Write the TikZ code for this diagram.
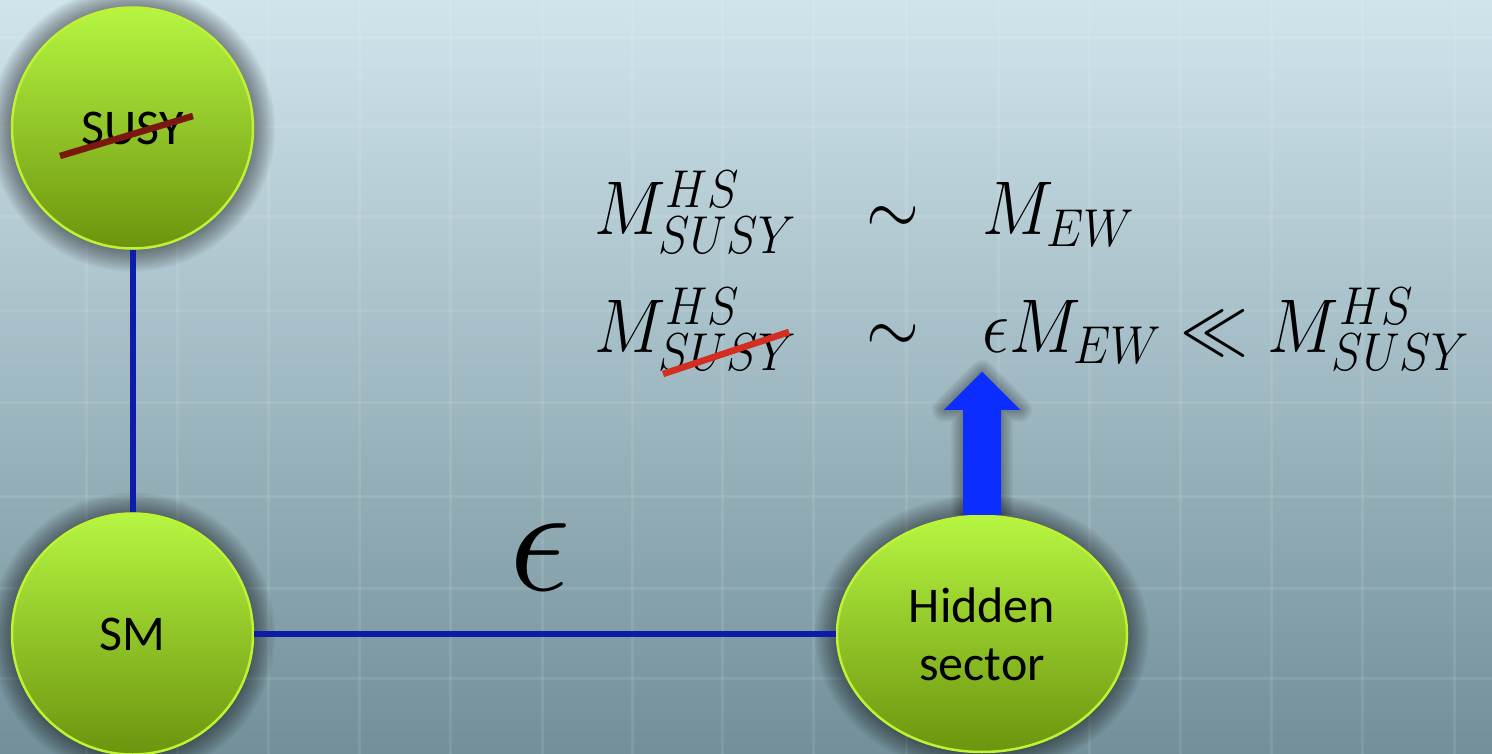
\RequirePackage{fix-cm}
\documentclass[tikz,border=0pt]{standalone}
\usepackage{graphicx}
\usepackage{fontspec}
\setmainfont{Carlito}
\usetikzlibrary{calc,shapes.geometric}
\definecolor{bgtop}{RGB}{208,228,236}
\definecolor{bgmid}{RGB}{174,202,212}
\definecolor{bgbot}{RGB}{114,144,154}
\definecolor{limetop}{RGB}{182,246,66}
\definecolor{limebot}{RGB}{108,148,14}
\definecolor{limeedge}{RGB}{190,242,50}
\definecolor{linkblue}{RGB}{12,28,168}
\definecolor{arrowblue}{RGB}{12,45,255}
\definecolor{strikedark}{RGB}{122,24,16}
\definecolor{strikered}{RGB}{212,46,32}
\newcommand{\stretchmath}[1]{\scalebox{1}[1.12]{$#1$}}
\tikzset{
  ball/.style={circle, minimum size=241pt, inner sep=0pt, top color=limetop, bottom color=limebot,
    draw=limeedge, line width=2.5pt, font=\fontsize{50}{58}\selectfont, text=black, align=center},
  oval/.style={ball, ellipse, minimum width=290pt, minimum height=236pt},
  link/.style={draw=linkblue, line width=6pt},
  eq/.style={inner sep=0pt, anchor=base west, font=\fontsize{68}{76}\selectfont, text=black},
  gridline/.style={draw=white, opacity=0.09, line width=3pt},
  glow/.style={fill=black, opacity=0.045},
  strike/.style={line width=6.5pt},
}
\begin{document}
\begin{tikzpicture}[x=1pt, y=-1pt]
\useasboundingbox (0,0) rectangle (1492,754);
% background
\shade[top color=bgtop, middle color=bgmid, bottom color=bgbot] (0,0) rectangle (1492,754);
\foreach \gx in {86,177,268,359,450,542,632,722,813,906,998,1089,1180,1271,1362,1454}
  \draw[gridline] (\gx,0) -- (\gx,754);
\foreach \gy in {38,127,217,310,402,496,588,678}
  \draw[gridline] (0,\gy) -- (1492,\gy);
% shadows
\foreach \d in {2,4,...,22} {
  \fill[glow] (132.5,129) circle[radius=120.5pt+\d pt];
  \fill[glow] (132.5,635) circle[radius=120.5pt+\d pt];
  \fill[glow] (982,635) ellipse[x radius=145pt+\d pt, y radius=118pt+\d pt];
}
% nodes
\node[ball] (susy) at (132.5,128) {SUSY};
\node[ball] (sm) at (132.5,634) {SM};
\node[oval] (hs) at (982,634) {Hidden\\sector};
\draw[strikedark, strike] (60,156) -- (193,116);
% connectors
\draw[link] (susy.south) -- (sm.north);
\draw[link] (sm.east) -- (hs.west);
\node[inner sep=0pt, font=\fontsize{155}{160}\selectfont] (eps) at (540,557) {$\epsilon$};
% thick arrow out of the hidden sector
\coordinate (tip) at ($(hs.north)+(0,-143)$);
\foreach \w in {3,6,...,24}
  \draw[black, opacity=0.04, line width=\w pt, line join=round]
    ($(hs.north)+(-19,0)$) -- ($(hs.north)+(-19,-105)$) -- ($(hs.north)+(-38,-105)$) -- (tip)
    -- ($(hs.north)+(38,-105)$) -- ($(hs.north)+(19,-105)$) -- ($(hs.north)+(19,0)$);
\fill[arrowblue] ($(hs.north)+(-19,0)$) -- ($(hs.north)+(-19,-105)$) -- ($(hs.north)+(-38,-105)$) -- (tip)
    -- ($(hs.north)+(38,-105)$) -- ($(hs.north)+(19,-105)$) -- ($(hs.north)+(19,0)$) -- cycle;
% equations
\node[eq] (r1a) at (594,235) {\stretchmath{M^{HS}_{SUSY}}};
\node[eq, anchor=base] (r1b) at (893,235) {\stretchmath{\sim}};
\node[eq] (r1c) at (982,235) {\stretchmath{M_{EW}}};
\node[eq] (r2a) at (594,352) {\stretchmath{M^{HS}_{SUSY}}};
\node[eq, anchor=base] (r2b) at (893,352) {\stretchmath{\sim}};
\node[eq] (r2c) at (982,352) {\stretchmath{\epsilon M_{EW} \ll M^{HS}_{SUSY}}};
\draw[strikered, strike] (663,374) -- (789,332);
\end{tikzpicture}
\end{document}
